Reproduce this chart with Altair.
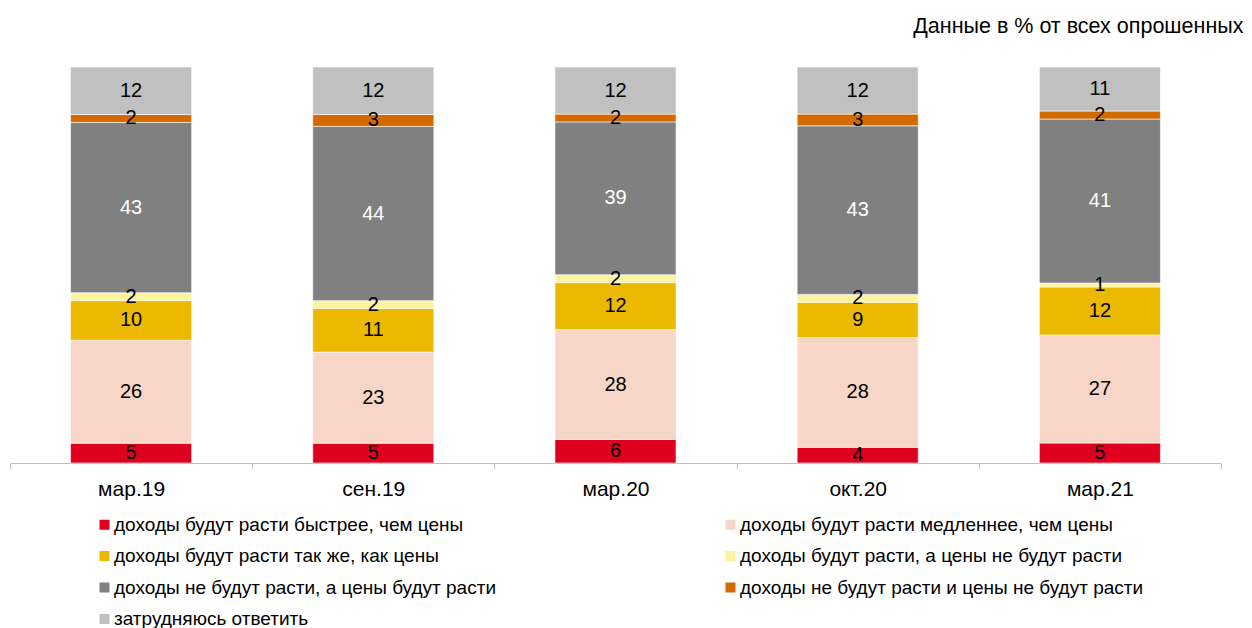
import altair as alt
import pandas as pd

periods = ["мар.19", "сен.19", "мар.20", "окт.20", "мар.21"]
categories = [
    "доходы будут расти быстрее, чем цены",
    "доходы будут расти медленнее, чем цены",
    "доходы будут расти так же, как цены",
    "доходы будут расти, а цены не будут расти",
    "доходы не будут расти, а цены будут расти",
    "доходы не будут расти и цены не будут расти",
    "затрудняюсь ответить",
]
colors = ["#DF001F", "#F7D6C7", "#EBB900", "#FFF49E", "#808080", "#D36A00", "#C0C0C0"]

faster = [5, 5, 6, 4, 5]
slower = [26, 23, 28, 28, 27]
same = [10, 11, 12, 9, 12]
income_only = [2, 2, 2, 2, 1]
prices_only = [43, 44, 39, 43, 41]
neither = [2, 3, 2, 3, 2]
dont_know = [12, 12, 12, 12, 11]

series = [faster, slower, same, income_only, prices_only, neither, dont_know]

rows = []
for ci, (cat, vals) in enumerate(zip(categories, series)):
    for p, v in zip(periods, vals):
        rows.append({"period": p, "cat": cat, "order": ci, "value": v})
df = pd.DataFrame(rows)

FONT = "Liberation Sans"
W, H = 1211, 396

base = alt.Chart(df).transform_stack(
    stack="value",
    groupby=["period"],
    sort=[alt.SortField("order", order="ascending")],
    offset="normalize",
    as_=["y0", "y1"],
).transform_calculate(mid="(datum.y0 + datum.y1) / 2")

x_enc = alt.X(
    "period:N",
    sort=periods,
    scale=alt.Scale(paddingInner=0, paddingOuter=0),
    axis=alt.Axis(
        title=None,
        labelAngle=0,
        tickBand="extent",
        labelFont=FONT,
        labelFontSize=21,
        labelFontWeight="normal",
        labelColor="#000000",
        labelPadding=9,
        tickSize=6,
        tickColor="#BFBFBF",
        domainColor="#BFBFBF",
        grid=False,
    ),
)

bars = base.mark_bar(width=alt.RelativeBandSize(0.5), stroke="white", strokeWidth=0.6).encode(
    x=x_enc,
    y=alt.Y("y0:Q", scale=alt.Scale(domain=[0, 1]), axis=None),
    y2="y1:Q",
    color=alt.Color(
        "cat:N",
        sort=categories,
        scale=alt.Scale(domain=categories, range=colors),
        legend=alt.Legend(
            title=None,
            orient="none",
            direction="horizontal",
            legendX=85,
            legendY=448,
            columns=2,
            gridAlign="all",
            columnPadding=203,
            rowPadding=11.5,
            symbolType="square",
            symbolSize=100,
            symbolStrokeWidth=0,
            labelFont=FONT,
            labelFontSize=19,
            labelFontWeight="normal",
            labelColor="#000000",
            labelOffset=0,
            labelLimit=0,
        ),
    ),
    order=alt.Order("order:Q"),
)

labels = base.mark_text(font=FONT, fontSize=20, baseline="middle").encode(
    x=alt.X("period:N", sort=periods),
    y=alt.Y("mid:Q", scale=alt.Scale(domain=[0, 1]), axis=None),
    text=alt.Text("value:Q"),
    color=alt.condition(
        alt.datum.cat == categories[4], alt.value("white"), alt.value("black")
    ),
)

chart = (
    alt.layer(bars, labels)
    .properties(
        width=W,
        height=H,
        autosize=alt.AutoSizeParams(type="none"),
        padding={"left": 2, "top": 59, "right": 23, "bottom": 165},
        title=alt.TitleParams(
            "Данные в % от всех опрошенных",
            anchor="end",
            font=FONT,
            fontSize=21.5,
            fontWeight="normal",
            color="#000000",
            dx=22,
            offset=29,
        ),
    )
    .configure_view(stroke=None)
)

chart.save("out.html", embed_options={"renderer": "svg", "actions": False})
